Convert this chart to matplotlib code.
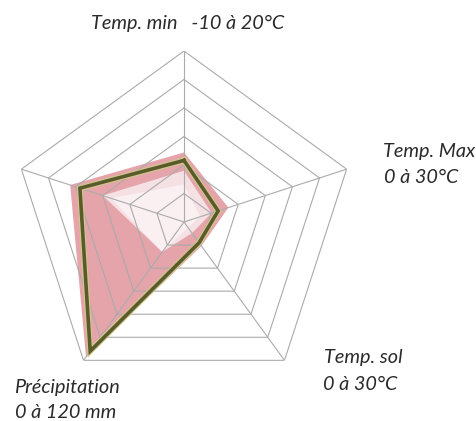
import numpy as np
import matplotlib
matplotlib.use("Agg")
from matplotlib import pyplot as plt

# axes, clockwise from the top
axis_names = ["Temp. min", "Temp. Max", "Temp. sol", "Précipitation", ""]
axis_lo = [-10, 0, 0, 0, 0]
axis_hi = [20, 30, 30, 120, 1]

# envelope of the observed values (max / min / inner)
env_max = [2.2, 8.2, 5.2, 117, 0.70]
env_min = [-1.0, 5.1, 2.4, 26, 0.50]
env_inner = [-3.4, 3.0, 1.2, 26, 0.45]

# reference year
current = [0.8, 6.3, 4.5, 112, 0.64]

n_rings = 6

W, H = 477, 421
fig = plt.figure(figsize=(W / 100, H / 100), dpi=100)
cx, cy, R = 184, 222, 171
ax = fig.add_axes([(cx - R) / W, (H - cy - R) / H, 2 * R / W, 2 * R / H],
                  projection="polar")
ax.set_theta_offset(np.pi / 2)
ax.set_theta_direction(-1)
ax.set_ylim(0, 1)
ax.grid(False)
ax.set_xticks([])
ax.set_yticks([])
ax.spines["polar"].set_visible(False)
ax.patch.set_alpha(0)

n = len(axis_names)
theta = np.arange(n) * 2 * np.pi / n
theta_c = np.append(theta, theta[0])


def norm(vals):
    r = [(v - lo) / (hi - lo) for v, lo, hi in zip(vals, axis_lo, axis_hi)]
    return np.append(r, r[0])


ax.fill(theta_c, norm(env_max), color="#e4a4aa", lw=0, zorder=1)
ax.fill(theta_c, norm(env_min), color="#f5e0e4", lw=0, zorder=2)
ax.fill(theta_c, norm(env_inner), color="#faeff1", lw=0, zorder=2)

# grid
for k in range(1, n_rings + 1):
    ax.plot(theta_c, [k / n_rings] * (n + 1), color="#ababab", lw=0.8, zorder=3)
for t in theta:
    ax.plot([t, t], [0, 1], color="#ababab", lw=0.8, zorder=3)

ax.plot(theta_c, norm(current), color="#cfc98a", lw=4.2, zorder=4,
        solid_joinstyle="miter")
ax.plot(theta_c, norm(current), color="#5b5a2c", lw=2.6, zorder=5,
        solid_joinstyle="miter")

font = dict(family="Lato", style="italic", fontsize=14.3, color="#2a2a2a")


def label(x, y, s, ha="center"):
    fig.text(x / W, 1 - y / H, s, ha=ha, va="center", **font)


label(188, 23, "Temp. min   -10 à 20°C")
label(429, 151, "Temp. Max")
label(421, 177, "0 à 30°C")
label(324, 358, "Temp. sol", ha="left")
label(323, 384, "0 à 30°C", ha="left")
label(67, 388, "Précipitation")
label(66, 413, "0 à 120 mm")

fig.savefig("out.png", dpi=100)
